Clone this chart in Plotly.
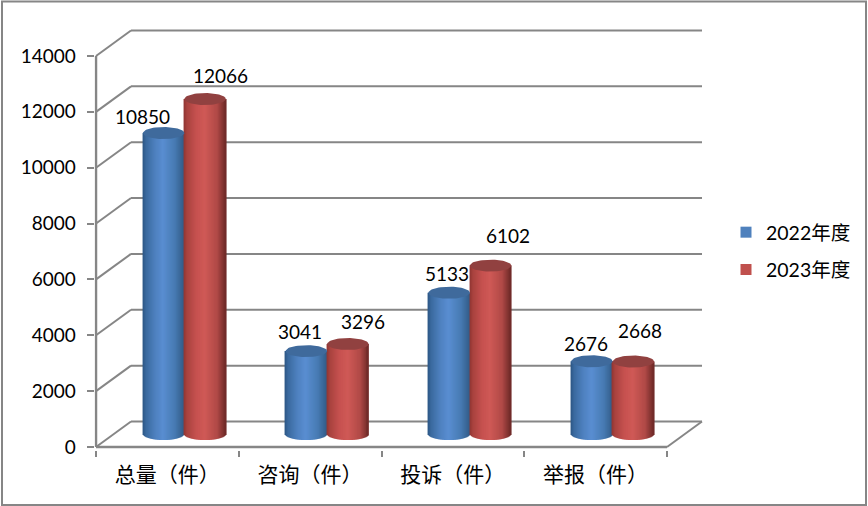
import numpy as np
import plotly.graph_objects as go

categories = ["总量（件）", "咨询（件）", "投诉（件）", "举报（件）"]
series_2022 = [10850, 3041, 5133, 2676]
series_2023 = [12066, 3296, 6102, 2668]
series_names = ["2022年度", "2023年度"]
y_ticks = [0, 2000, 4000, 6000, 8000, 10000, 12000, 14000]

# label nudges in px, because the source labels were hand-placed
label_dx = [[-21, -6, -2, -6], [15, 15, 17, 7]]
label_dy = [[14, 17, 17, 15], [21, 20, 28, 29]]

W, H = 868, 506
BAND = 142.75
PX_PER_V = 0.02793
X_LEFT, Y_ZERO = 96, 447
DEPTH_U = 35 / BAND
DEPTH_V = 25.5 / PX_PER_V
X_RANGE = [-0.51, 3.5 + DEPTH_U + 0.01]
Y_RANGE = [-100, 14000 + DEPTH_V + 100]
GRID = "#868686"
FONT = "Lato, 'Noto Sans CJK SC', sans-serif"

def xpx(u):
    return X_LEFT + (u + 0.5) * BAND

def ypx(v):
    return Y_ZERO - v * PX_PER_V

palettes = [
    ([0, .08, .3, .5, .8, 1], ["#2c5683", "#3a6a9f", "#4f81c0", "#5a8fd2", "#477ab2", "#345c88"]),
    ([0, .08, .3, .5, .8, 1], ["#8e3633", "#a9433f", "#c65250", "#d05a57", "#b14a47", "#6d2a28"]),
]
top_colors = ["#3f6a9c", "#914140"]
swatch = ["#4f81bd", "#c0504d"]

def shade(stops, colors, t):
    rgb = [[int(c[i:i + 2], 16) for i in (1, 3, 5)] for c in colors]
    return "rgb(%d,%d,%d)" % tuple(
        np.interp(t, stops, [c[k] for c in rgb]) for k in range(3))

fig = go.Figure()

CYL_W = 41.5 / BAND       # cylinder width in category units
STRIP = 1 / BAND
ELL = 6.5 / PX_PER_V      # bottom ellipse half-height in value units
ELL_TOP = 6 / PX_PER_V    # top ellipse half-height in value units
TOP_DROP = 2.5 / PX_PER_V # perspective drop of the cylinder tops
MID_X = DEPTH_U / 2 - 0.5 / BAND
MID_V = DEPTH_V / 2 + 0.7 / PX_PER_V

t = (np.arange(42) + 0.5) / 42
arc = np.sqrt(np.clip(1 - (2 * t - 1) ** 2, 0, 1))
theta = np.linspace(0, 2 * np.pi, 61)

for s, values in enumerate([series_2022, series_2023]):
    xs, bases, heights, cols = [], [], [], []
    for c, v in enumerate(values):
        left = c + MID_X - CYL_W + s * CYL_W
        for ti, ai in zip(t, arc):
            xs.append(left + ti * CYL_W)
            bases.append(MID_V - ELL * ai)
            heights.append(v - TOP_DROP + ELL * ai)
            cols.append(shade(*palettes[s], ti))
    fig.add_trace(go.Bar(x=xs, y=heights, base=bases, width=STRIP * 1.15,
                         marker=dict(color=cols, line=dict(width=0)),
                         name=series_names[s], showlegend=False, hoverinfo="skip",
                         cliponaxis=False))

for s, values in enumerate([series_2022, series_2023]):
    for c, v in enumerate(values):
        cx = c + MID_X - CYL_W / 2 + s * CYL_W
        fig.add_trace(go.Scatter(
            x=cx + CYL_W / 2 * np.cos(theta),
            y=v - TOP_DROP + MID_V + ELL_TOP * np.sin(theta),
            mode="lines", fill="toself", fillcolor=top_colors[s],
            line=dict(width=0, color=top_colors[s]),
            showlegend=False, hoverinfo="skip", cliponaxis=False))

for s in range(2):
    fig.add_trace(go.Scatter(x=[None], y=[None], mode="markers", name=series_names[s],
                             legendgroup=series_names[s],
                             marker=dict(symbol="square", size=11, color=swatch[s])))

shapes = []
def seg(x0, y0, x1, y1, width=2, color=GRID):
    shapes.append(dict(type="line", xref="x", yref="y", x0=x0, y0=y0, x1=x1, y1=y1,
                       layer="below", line=dict(color=color, width=width)))

for v in y_ticks:
    seg(-0.5, v, -0.5 + DEPTH_U, v + DEPTH_V)
    seg(-0.5 + DEPTH_U, v + DEPTH_V, 3.5 + DEPTH_U, v + DEPTH_V)
seg(-0.5, 0, -0.5, 14000, width=2.5)
seg(-0.5, 0, 3.5, 0, width=2.5)
seg(3.5, 0, 3.5 + DEPTH_U, DEPTH_V)
shapes.append(dict(type="rect", xref="paper", yref="paper", x0=2 / W, x1=866 / W,
                   y0=1 - 505 / H, y1=1 - 1.5 / H, layer="below",
                   line=dict(color=GRID, width=2)))

annotations = []
for s, values in enumerate([series_2022, series_2023]):
    for c, v in enumerate(values):
        annotations.append(dict(
            x=c + MID_X - CYL_W / 2 + s * CYL_W, y=v + MID_V, text=str(v),
            xref="x", yref="y", showarrow=False,
            xshift=label_dx[s][c], yshift=label_dy[s][c],
            font=dict(family=FONT, size=19, color="#000000")))

fig.update_layout(
    width=W, height=H, margin=dict(l=0, r=0, t=0, b=0),
    paper_bgcolor="white", plot_bgcolor="rgba(0,0,0,0)",
    barmode="overlay", shapes=shapes, annotations=annotations,
    font=dict(family=FONT, size=19, color="#000000"),
    legend=dict(x=726 / W, y=1 - 213 / H, xanchor="left", yanchor="top",
                tracegroupgap=9, font=dict(family=FONT, size=19.5),
                bgcolor="rgba(0,0,0,0)", itemwidth=30),
    xaxis=dict(domain=[xpx(X_RANGE[0]) / W, xpx(X_RANGE[1]) / W], range=X_RANGE,
               automargin=False,
               tickmode="array", tickvals=list(range(4)), ticktext=categories,
               ticks="", showgrid=False, zeroline=False, showline=False,
               ticklabelstandoff=10,
               tickfont=dict(family=FONT, size=21),
               minor=dict(tickmode="array", tickvals=[-0.5, 0.5, 1.5, 2.5, 3.5],
                          ticks="outside", ticklen=6, tickwidth=2, tickcolor=GRID,
                          showgrid=False)),
    yaxis=dict(domain=[1 - ypx(Y_RANGE[0]) / H, 1 - ypx(Y_RANGE[1]) / H], range=Y_RANGE,
               automargin=False, tickformat="d",
               tickmode="array", tickvals=y_ticks, ticks="outside", ticklen=7,
               tickwidth=2, tickcolor=GRID, showgrid=False, zeroline=False,
               showline=False, ticklabelstandoff=7,
               tickfont=dict(family=FONT, size=19)),
)

fig.write_html("out.html", config={"displayModeBar": False},
               post_script="document.body.style.margin='0';")
